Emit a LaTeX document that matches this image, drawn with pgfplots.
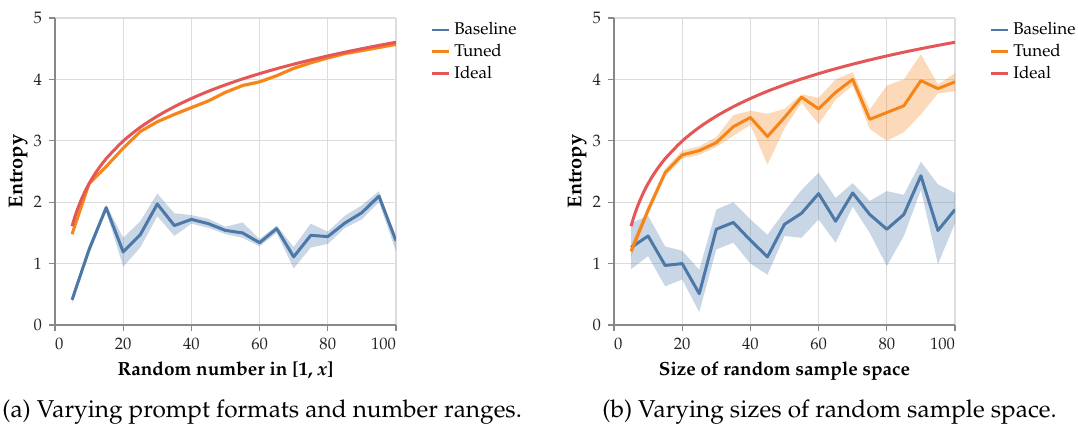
\documentclass[border=0pt]{standalone}
\usepackage[T1]{fontenc}
\usepackage{mathpazo}
\usepackage{pgfplots}
\pgfplotsset{compat=1.18}
\usepackage{pgfplotstable}
\usepgfplotslibrary{fillbetween}

\definecolor{cbase}{HTML}{4C78A8}
\definecolor{ctune}{HTML}{F58518}
\definecolor{cideal}{HTML}{E45756}
\definecolor{cgrid}{HTML}{DDDDDD}
\definecolor{caxis}{HTML}{888888}

% (a) prompt formats / number ranges
\pgfplotstableread{
x   base blo  bhi  tune tlo  thi
5   0.41 0.35 0.47 1.48 1.45 1.52
10  1.23 1.15 1.30 2.30 2.27 2.33
15  1.91 1.85 1.96 2.58 2.55 2.61
20  1.19 0.95 1.42 2.88 2.85 2.91
25  1.47 1.26 1.69 3.15 3.12 3.18
30  1.97 1.77 2.14 3.31 3.28 3.34
35  1.62 1.45 1.82 3.43 3.40 3.46
40  1.72 1.65 1.79 3.54 3.51 3.57
45  1.65 1.58 1.73 3.65 3.62 3.68
50  1.54 1.48 1.60 3.79 3.76 3.82
55  1.50 1.42 1.67 3.90 3.87 3.93
60  1.34 1.28 1.40 3.96 3.93 3.99
65  1.57 1.50 1.62 4.06 4.03 4.09
70  1.11 0.92 1.27 4.18 4.15 4.21
75  1.46 1.26 1.65 4.27 4.24 4.30
80  1.44 1.32 1.52 4.35 4.32 4.38
85  1.66 1.58 1.78 4.42 4.39 4.45
90  1.83 1.72 1.95 4.47 4.44 4.50
95  2.10 2.00 2.18 4.52 4.49 4.55
100 1.37 1.20 1.42 4.57 4.54 4.60
}\tabA

% (b) sizes of random sample space
\pgfplotstableread{
x   base blo  bhi  tune tlo  thi
5   1.26 0.91 1.66 1.20 1.10 1.30
10  1.45 1.12 1.78 1.87 1.80 1.95
15  0.97 0.63 1.28 2.48 2.42 2.55
20  1.00 0.74 1.21 2.77 2.71 2.84
25  0.51 0.21 0.90 2.84 2.77 2.91
30  1.56 1.23 1.88 2.97 2.90 3.06
35  1.67 1.34 2.00 3.23 3.08 3.42
40  1.38 1.00 1.72 3.38 3.26 3.49
45  1.11 0.82 1.47 3.07 2.61 3.44
50  1.64 1.45 1.85 3.38 3.20 3.52
55  1.82 1.42 2.20 3.71 3.62 3.76
60  2.14 1.72 2.48 3.52 3.27 3.70
65  1.69 1.34 2.07 3.79 3.67 4.00
70  2.15 1.93 2.31 4.00 3.90 4.12
75  1.80 1.50 2.02 3.35 3.19 3.51
80  1.56 0.96 2.18 3.46 3.00 3.90
85  1.80 1.45 2.12 3.57 3.14 4.00
90  2.43 2.20 2.66 3.98 3.43 4.41
95  1.54 0.99 2.29 3.85 3.77 3.92
100 1.88 1.66 2.15 3.96 3.81 4.10
}\tabB

% ideal entropy, ln(x)
\pgfplotstableread{
x   ideal
5   1.609
6   1.792
7   1.946
8   2.079
9   2.197
10  2.303
12  2.485
15  2.708
20  2.996
25  3.219
30  3.401
35  3.555
40  3.689
45  3.807
50  3.912
55  4.007
60  4.094
65  4.174
70  4.248
75  4.317
80  4.382
85  4.443
90  4.500
95  4.554
100 4.605
}\tabIdeal

\pgfplotsset{entropy/.style={
  scale only axis, width=170.5pt, height=153.5pt,
  xmin=0, xmax=100, ymin=0, ymax=5,
  xtick={0,20,...,100}, ytick={0,...,5},
  xticklabels={\rlap{0},20,40,60,80,\llap{100}},
  axis x line*=bottom, axis y line*=left,
  axis line style={caxis, line width=0.7pt, -},
  grid=major, major grid style={cgrid, line width=0.6pt},
  tick style={caxis, line width=0.6pt}, tick align=outside, major tick length=3pt,
  tick label style={font=\fontsize{8.3}{10}\selectfont, text=black!85},
  ylabel={Entropy},
  every axis y label/.style={at={(axis description cs:-0.108,0.5)}, rotate=90, anchor=center,
    font=\fontsize{10}{12}\selectfont\bfseries},
  every axis x label/.style={at={(axis description cs:0.5,-0.163)}, anchor=base,
    font=\fontsize{9.5}{12}\selectfont\bfseries},
  legend style={draw=none, fill=none, at={(axis description cs:1.10,1.0)}, anchor=north west,
    font=\fontsize{8.5}{10}\selectfont, row sep=-0.8pt, inner sep=0pt},
  legend cell align=left,
  legend image code/.code={\draw[#1, line width=1.4pt] (0pt,0pt) -- (8.5pt,0pt);},
  every axis plot/.append style={line width=1.5pt, line join=round},
}}

\begin{document}
\begin{tikzpicture}

\begin{axis}[entropy, at={(27.5pt,51pt)}, anchor=south west,
  xlabel={Random number in [1, \textit{x}]}]
\addplot[name path=ahi, draw=none, forget plot] table[x=x, y=bhi] {\tabA};
\addplot[name path=alo, draw=none, forget plot] table[x=x, y=blo] {\tabA};
\addplot[cbase, fill opacity=0.3, draw=none, forget plot] fill between[of=ahi and alo];
\addplot[name path=athi, draw=none, forget plot] table[x=x, y=thi] {\tabA};
\addplot[name path=atlo, draw=none, forget plot] table[x=x, y=tlo] {\tabA};
\addplot[ctune, fill opacity=0.3, draw=none, forget plot] fill between[of=athi and atlo];
\addplot[cbase] table[x=x, y=base] {\tabA};
\addplot[ctune] table[x=x, y=tune] {\tabA};
\addplot[cideal, smooth] table[x=x, y=ideal] {\tabIdeal};
\legend{Baseline, Tuned, Ideal}
\end{axis}

\begin{axis}[entropy, at={(307pt,51pt)}, anchor=south west,
  xlabel={Size of random sample space}]
\addplot[name path=bbhi, draw=none, forget plot] table[x=x, y=bhi] {\tabB};
\addplot[name path=bblo, draw=none, forget plot] table[x=x, y=blo] {\tabB};
\addplot[cbase, fill opacity=0.3, draw=none, forget plot] fill between[of=bbhi and bblo];
\addplot[name path=bthi, draw=none, forget plot] table[x=x, y=thi] {\tabB};
\addplot[name path=btlo, draw=none, forget plot] table[x=x, y=tlo] {\tabB};
\addplot[ctune, fill opacity=0.3, draw=none, forget plot] fill between[of=bthi and btlo];
\addplot[cbase] table[x=x, y=base] {\tabB};
\addplot[ctune] table[x=x, y=tune] {\tabB};
\addplot[cideal, smooth] table[x=x, y=ideal] {\tabIdeal};
\legend{Baseline, Tuned, Ideal}
\end{axis}

\node[font=\fontsize{12.2}{14}\selectfont, anchor=base west, inner sep=0pt] at (1pt,4.5pt) {(a) Varying prompt formats and number ranges.};
\node[font=\fontsize{12.2}{14}\selectfont, anchor=base west, inner sep=0pt] at (301pt,4.5pt) {(b) Varying sizes of random sample space.};

\pgfresetboundingbox
\path[use as bounding box] (0,0) rectangle (539pt,213.5pt);
\end{tikzpicture}
\end{document}
